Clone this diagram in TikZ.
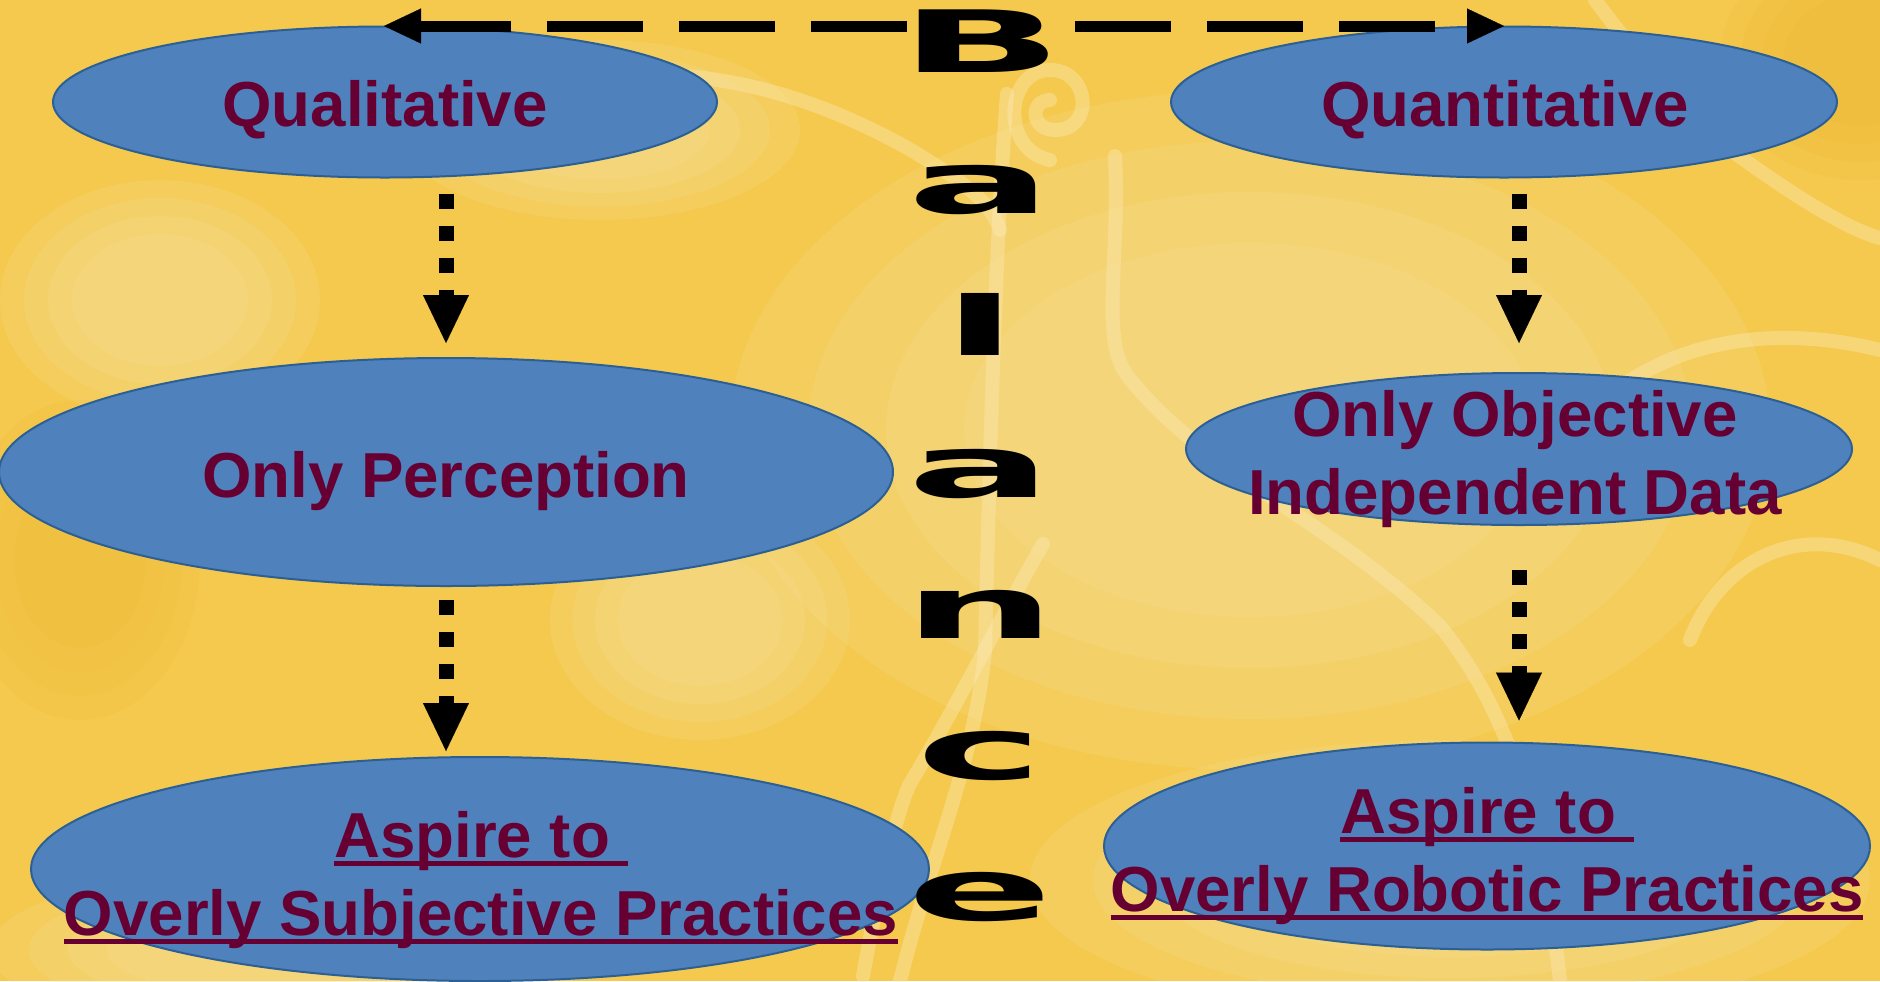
\documentclass[tikz,border=0pt]{standalone}
\usepackage{fontspec}
\usepackage{graphicx}
\setmainfont{Liberation Sans}
\newfontfamily\balfont{DejaVu Sans}
\usetikzlibrary{shapes.geometric,arrows.meta}
\definecolor{bgbase}{HTML}{F4C94E}
\definecolor{bglight}{HTML}{F9E2A0}
\definecolor{bgdark}{HTML}{EFB935}
\definecolor{swirl}{HTML}{FCEBB8}
\definecolor{ellfill}{HTML}{4F81BD}
\definecolor{elldraw}{HTML}{2C5F94}
\definecolor{txt}{HTML}{660033}
\newcommand{\myul}[1]{\setbox0\hbox{#1}\rlap{\copy0}\rule[-4.5pt]{\wd0}{2.5pt}}
\begin{document}
\begin{tikzpicture}[x=0.5pt,y=-0.5pt,
  oval/.style={ellipse, fill=ellfill, draw=elldraw, line width=1pt, inner sep=0pt, outer sep=0pt},
  lbl/.style={font=\fontsize{31.8}{39}\selectfont\bfseries, text=txt, align=center, inner sep=0pt},
  letter/.style={font=\fontsize{43}{43}\selectfont\balfont\bfseries, text=black, inner sep=0pt, anchor=base},
  dotarrow/.style={line width=7.5pt, dash pattern=on 7.5pt off 8.5pt, -{Triangle[length=24pt,width=23pt,line width=0.1pt]}},
  toparrow/.style={line width=5.5pt, dash pattern=on 48pt off 18pt, -{Triangle[length=18.5pt,width=17.5pt,line width=0.1pt]}},
  swirlline/.style={draw=swirl, line width=7pt, opacity=0.4, line cap=round},
  patch/.style={fill=bglight, opacity=0.18}
]
% background
\fill[bgbase] (0,0) rectangle (1880,981);
\useasboundingbox (0,0) rectangle (1880,981);
\foreach \s in {1.0,0.85,0.7,0.55} {
  \fill[patch] (1250,430) ellipse [x radius=520*\s, y radius=340*\s];
  \fill[patch] (1450,880) ellipse [x radius=420*\s, y radius=140*\s];
  \fill[patch] (160,300) ellipse [x radius=160*\s, y radius=120*\s];
  \fill[patch] (600,130) ellipse [x radius=200*\s, y radius=90*\s];
  \fill[patch] (250,950) ellipse [x radius=260*\s, y radius=80*\s];
  \fill[patch] (700,620) ellipse [x radius=150*\s, y radius=120*\s];
  \fill[bgdark, opacity=0.2] (1860,60) ellipse [x radius=140*\s, y radius=120*\s];
  \fill[bgdark, opacity=0.15] (80,560) ellipse [x radius=120*\s, y radius=160*\s];
}
% swirls
\draw[swirlline] (1007,94) .. controls (995,250) and (990,450) .. (985,650) .. controls (975,760) and (930,860) .. (900,981);
\draw[swirlline] (1115,156) .. controls (1120,260) and (1100,340) .. (1127,375) .. controls (1200,470) and (1330,520) .. (1440,626) .. controls (1500,700) and (1540,800) .. (1560,981);
\draw[swirlline] (1595,0) .. controls (1640,60) and (1690,120) .. (1739,156) .. controls (1800,200) and (1850,230) .. (1880,238);
\draw[swirlline] (1619,388) .. controls (1700,330) and (1800,330) .. (1880,350);
\draw[swirlline] (863,976) .. controls (880,880) and (900,800) .. (911,782) .. controls (960,700) and (1010,600) .. (1043,544);
\draw[swirlline] (671,75) .. controls (760,80) and (840,110) .. (911,150) .. controls (960,180) and (990,200) .. (1000,230);
\draw[swirlline] (1050,160) .. controls (1000,150) and (1005,70) .. (1050,70) .. controls (1090,70) and (1095,130) .. (1055,130) .. controls (1030,130) and (1030,100) .. (1050,100);
\draw[swirlline] (1880,560) .. controls (1800,520) and (1720,560) .. (1690,640);

% ellipses
\node[oval, minimum width=332pt, minimum height=75.5pt] (qual) at (385,102) {};
\node[oval, minimum width=333pt, minimum height=75.5pt] (quant) at (1504,102) {};
\node[oval, minimum width=447pt, minimum height=114pt] (perc) at (446,472) {};
\node[oval, minimum width=333pt, minimum height=76pt] (obj) at (1519,449) {};
\node[oval, minimum width=449pt, minimum height=112pt] (asl) at (480,869) {};
\node[oval, minimum width=383pt, minimum height=103.5pt] (asr) at (1487,846) {};

% labels
\node[lbl] (qualT) at (385,110) {Qualitative};
\node[lbl] (quantT) at (1505,110) {Quantitative};
\node[lbl] (percT) at (446,481) {Only Perception};
\node[lbl] (objT) at (1515,459) {Only Objective\\Independent Data};
\node[lbl] (aslT) at (481,880) {\myul{Aspire to\ }\\\myul{Overly Subjective Practices}};
\node[lbl] (asrT) at (1487,856) {\myul{Aspire to\ }\\\myul{Overly Robotic Practices}};

% Balance letters
\node[letter] (b1) at (981,72) {\scalebox{2.5}[1]{B}};
\node[letter] (b2) at (980,213) {\scalebox{2.5}[1]{a}};
\node[letter] (b3) at (980,355) {\scalebox{2.5}[0.95]{l}};
\node[letter] (b4) at (980,497) {\scalebox{2.5}[1]{a}};
\node[letter] (b5) at (980,638) {\scalebox{2.5}[1]{n}};
\node[letter] (b6) at (980,779) {\scalebox{2.5}[1]{c}};
\node[letter] (b7) at (980,920) {\scalebox{2.5}[1]{e}};

% top arrows
\coordinate (ltip) at (384,26);
\coordinate (rtip) at (1504,26);
\coordinate (lstart) at (907,26);
\coordinate (rstart) at (1075,26);
\draw[toparrow] (lstart) -- (ltip);
\draw[toparrow] (rstart) -- (rtip);

% vertical dotted arrows
\draw[dotarrow, shorten <=8pt, shorten >=7.5pt] (perc.north |- qual.south) -- (perc.north);
\draw[dotarrow, shorten <=7pt, shorten >=3pt] (perc.south) -- (perc.south |- asl.north);
\draw[dotarrow, shorten <=8pt, shorten >=15pt] (obj.north |- quant.south) -- (obj.north);
\draw[dotarrow, shorten <=22.5pt, shorten >=11pt] (obj.south) -- (obj.south |- asr.north);
\end{tikzpicture}
\end{document}
